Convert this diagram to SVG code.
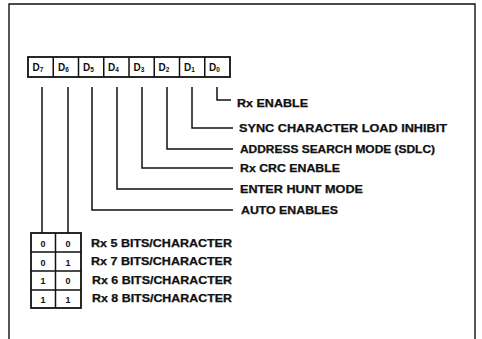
<svg xmlns="http://www.w3.org/2000/svg" width="482" height="339" viewBox="0 0 482 339">
<style>
.frame{fill:none;stroke:#111;stroke-width:1.4}
.box{fill:#fff;stroke:#111;stroke-width:1.8}
.ln{fill:none;stroke:#111;stroke-width:1.5}
.t{font-family:"Liberation Sans",Arial,sans-serif;font-weight:bold;font-size:10px;fill:#111;stroke:#111;stroke-width:0.25}
.d{font-family:"Liberation Sans",Arial,sans-serif;font-weight:bold;font-size:10px;fill:#111}
.s{font-size:6.5px}
.c{font-family:"Liberation Sans",Arial,sans-serif;font-weight:bold;font-size:9px;fill:#111;text-anchor:middle}
</style>
<rect width="482" height="339" fill="#fff"/>
<path class="frame" d="M9 339 V4 H475 V339"/>

<g id="register">
<rect class="box" x="28" y="57" width="202" height="20"/>
<path class="ln" d="M53.25 57 V77 M78.5 57 V77 M103.75 57 V77 M129 57 V77 M154.25 57 V77 M179.5 57 V77 M204.75 57 V77"/>
<text class="d" x="32.5" y="70.5">D<tspan class="s" dy="1">7</tspan></text>
<text class="d" x="58" y="70.5">D<tspan class="s" dy="1">6</tspan></text>
<text class="d" x="83" y="70.5">D<tspan class="s" dy="1">5</tspan></text>
<text class="d" x="108" y="70.5">D<tspan class="s" dy="1">4</tspan></text>
<text class="d" x="133.5" y="70.5">D<tspan class="s" dy="1">3</tspan></text>
<text class="d" x="158.5" y="70.5">D<tspan class="s" dy="1">2</tspan></text>
<text class="d" x="184" y="70.5">D<tspan class="s" dy="1">1</tspan></text>
<text class="d" x="209" y="70.5">D<tspan class="s" dy="1">0</tspan></text>
</g>

<g id="connectors">
<path class="ln" d="M217 87 V100 H231"/>
<path class="ln" d="M192 87 V128 H233"/>
<path class="ln" d="M167 87 V149 H233"/>
<path class="ln" d="M142 87 V168 H233"/>
<path class="ln" d="M117 87 V189 H233"/>
<path class="ln" d="M92 87 V210 H233"/>
<path class="ln" d="M42 87 V233"/>
<path class="ln" d="M68 87 V233"/>
</g>

<g id="labels">
<text class="t" x="237" y="107" textLength="71" lengthAdjust="spacingAndGlyphs">Rx ENABLE</text>
<text class="t" x="239" y="132" textLength="208" lengthAdjust="spacingAndGlyphs">SYNC CHARACTER LOAD INHIBIT</text>
<text class="t" x="240" y="153" textLength="195" lengthAdjust="spacingAndGlyphs">ADDRESS SEARCH MODE (SDLC)</text>
<text class="t" x="240" y="172" textLength="100" lengthAdjust="spacingAndGlyphs">Rx CRC ENABLE</text>
<text class="t" x="240" y="193" textLength="123" lengthAdjust="spacingAndGlyphs">ENTER HUNT MODE</text>
<text class="t" x="241" y="214" textLength="97" lengthAdjust="spacingAndGlyphs">AUTO ENABLES</text>
</g>

<g id="table">
<rect class="box" x="31" y="233" width="50" height="75"/>
<path class="ln" d="M55.5 233 V308 M31 252 H81 M31 271 H81 M31 290 H81"/>
<text class="c" x="43" y="246.5">0</text><text class="c" x="68" y="246.5">0</text>
<text class="c" x="43" y="265.5">0</text><text class="c" x="68" y="265.5">1</text>
<text class="c" x="43" y="284">1</text><text class="c" x="68" y="284">0</text>
<text class="c" x="43" y="302.5">1</text><text class="c" x="68" y="302.5">1</text>
<text class="t" x="91" y="247" textLength="141" lengthAdjust="spacingAndGlyphs">Rx 5 BITS/CHARACTER</text>
<text class="t" x="91" y="265" textLength="141" lengthAdjust="spacingAndGlyphs">Rx 7 BITS/CHARACTER</text>
<text class="t" x="92" y="284" textLength="140" lengthAdjust="spacingAndGlyphs">Rx 6 BITS/CHARACTER</text>
<text class="t" x="92" y="302" textLength="140" lengthAdjust="spacingAndGlyphs">Rx 8 BITS/CHARACTER</text>
</g>
</svg>
